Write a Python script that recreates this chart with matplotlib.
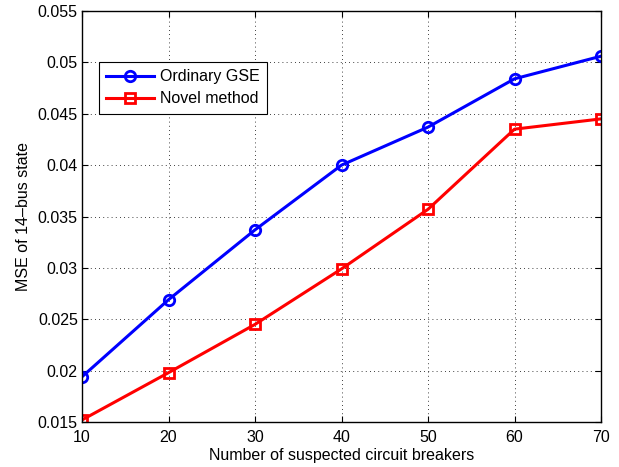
import matplotlib
matplotlib.use("Agg")
import matplotlib.pyplot as plt

x = [10, 20, 30, 40, 50, 60, 70]
ordinary_gse = [0.0194, 0.0269, 0.0337, 0.0400, 0.0437, 0.0484, 0.0506]
novel_method = [0.0152, 0.0198, 0.0245, 0.0299, 0.0357, 0.0435, 0.0445]
xticks = [10, 20, 30, 40, 50, 60, 70]
yticks = [0.015, 0.02, 0.025, 0.03, 0.035, 0.04, 0.045, 0.05, 0.055]
ytick_labels = ["0.015", "0.02", "0.025", "0.03", "0.035", "0.04", "0.045", "0.05", "0.055"]

plt.rcParams['font.family'] = ['Liberation Sans', 'DejaVu Sans']
fs = 11.5
fig = plt.figure(figsize=(6.19, 4.67), dpi=100)
ax = fig.add_axes([82/619, 1-422/467, (601-82)/619, (422-11)/467])

ax.plot(x, ordinary_gse, color='#0000ff', lw=2.2, marker='o', ms=7.5, mfc='none', mew=2, label='Ordinary GSE')
ax.plot(x, novel_method, color='#ff0000', lw=2.2, marker='s', ms=7, mfc='none', mew=2, label='Novel method')

ax.set_xlim(10, 70)
ax.set_ylim(0.015, 0.055)
ax.set_xticks(xticks)
ax.set_yticks(yticks)
ax.set_yticklabels(ytick_labels)
ax.tick_params(direction='in', top=True, right=True, labelsize=fs, length=4, width=0.8, pad=3)
ax.tick_params(axis='x', pad=6)
ax.grid(True, linestyle=(0, (1, 4)), color='black', lw=0.6)
for s in ax.spines.values():
    s.set_linewidth(1.0)
ax.set_xlabel('Number of suspected circuit breakers', fontsize=fs, labelpad=2)
ax.set_ylabel('MSE of 14\u2013bus state', fontsize=fs, labelpad=5)

leg = ax.legend(loc='upper left', bbox_to_anchor=((99-82)/519, 1-(62-11)/411), fontsize=fs,
                fancybox=False, edgecolor='black', framealpha=1, handlelength=3.0,
                borderpad=0.45, labelspacing=0.45, handletextpad=0.4, borderaxespad=0)
leg.get_frame().set_linewidth(0.8)

fig.savefig('out.png', dpi=100)
